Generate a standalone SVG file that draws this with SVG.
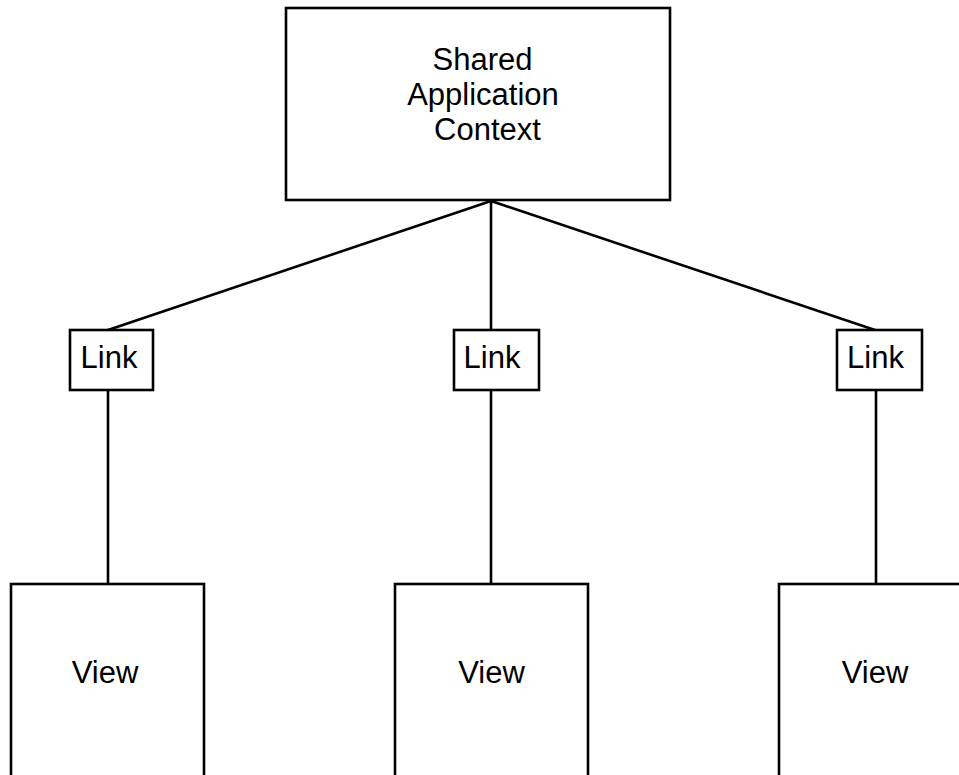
<svg xmlns="http://www.w3.org/2000/svg" width="959" height="775" viewBox="0 0 959 775">
  <style>
    .box { fill: #ffffff; stroke: #000000; stroke-width: 2.6; }
    .wire { fill: none; stroke: #000000; stroke-width: 2.6; }
    .label { font-family: "Liberation Sans", Arial, Helvetica, sans-serif; font-size: 31px; fill: #000000; text-anchor: middle; }
  </style>
  <rect width="959" height="775" fill="#ffffff"/>

  <!-- connectors -->
  <g id="connectors">
    <line class="wire" x1="491" y1="201" x2="108" y2="330"/>
    <line class="wire" x1="491" y1="201" x2="491" y2="330"/>
    <line class="wire" x1="491" y1="201" x2="875" y2="330"/>
    <line class="wire" x1="108" y1="390" x2="108" y2="584"/>
    <line class="wire" x1="491" y1="390" x2="491" y2="584"/>
    <line class="wire" x1="876" y1="390" x2="876" y2="584"/>
  </g>

  <g id="context">
    <rect class="box" x="286" y="8" width="384" height="192"/>
    <text class="label" x="482.5" y="69.5">Shared</text>
    <text class="label" x="483" y="104.5">Application</text>
    <text class="label" x="487.5" y="140">Context</text>
  </g>

  <g id="link-left">
    <rect class="box" x="70" y="330" width="83" height="60"/>
    <text class="label" x="109" y="368">Link</text>
  </g>
  <g id="link-middle">
    <rect class="box" x="454" y="330" width="85" height="60"/>
    <text class="label" x="492" y="368">Link</text>
  </g>
  <g id="link-right">
    <rect class="box" x="837" y="330" width="85" height="60"/>
    <text class="label" x="875.5" y="368">Link</text>
  </g>

  <g id="view-left">
    <rect class="box" x="11" y="584" width="193" height="200"/>
    <text class="label" x="105" y="683">View</text>
  </g>
  <g id="view-middle">
    <rect class="box" x="395" y="584" width="193" height="200"/>
    <text class="label" x="491.5" y="683">View</text>
  </g>
  <g id="view-right">
    <rect class="box" x="779" y="584" width="193" height="200"/>
    <text class="label" x="875" y="683">View</text>
  </g>
</svg>
